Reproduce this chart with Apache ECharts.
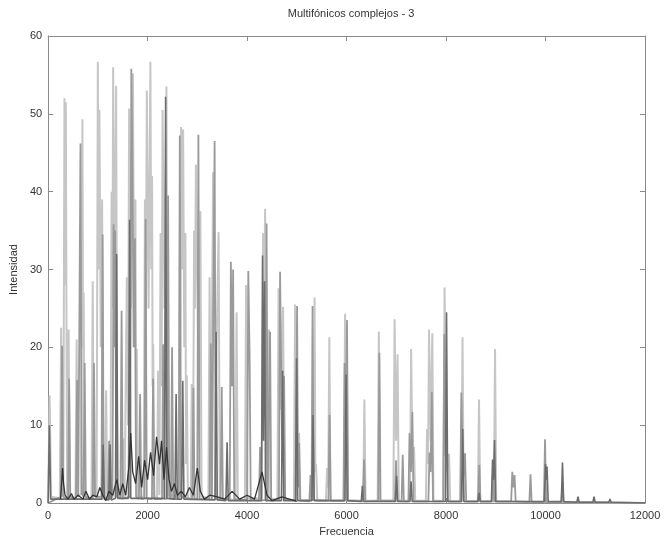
<!DOCTYPE html>
<html>
<head>
<meta charset="utf-8">
<script src="https://cdn.jsdelivr.net/npm/echarts@6/dist/echarts.min.js"></script>
<style>html,body{margin:0;padding:0;background:#fff;}#c{width:665px;height:542px;}</style>
</head>
<body>
<div id="c"></div>
<script>
var titleText = 'Multifónicos complejos - 3';
var xName = 'Frecuencia';
var yName = 'Intensidad';

// [frecuencia, intensidad] — light gray spectrum
var lightSpec = [
[0,0],[30,13.8],[60,0.8],
[235,0.6],[261,22.5],[285,1.2],
[305,0.8],[328,52],[342,28],[356,51.5],[380,1.2],
[395,0.6],[412,22.3],[435,0.8],
[550,0.6],[573,21],[596,0.8],
[665,1.2],[689,49.3],[702,20],[714,27],[738,0.8],
[872,0.6],[896,28.5],[920,1],
[975,0.8],[999,56.7],[1015,30],[1031,50.5],[1058,20],[1085,39],[1110,1],
[1143,0.5],[1166,14.5],[1189,0.5],
[1252,0.8],[1276,40],[1292,25],[1307,56],[1337,25],[1367,53.6],[1392,1],
[1491,0.5],[1514,8.3],[1537,0.5],
[1558,0.6],[1582,29],[1605,10],[1628,50.7],[1666,25],[1705,55.2],[1730,20],[1755,39],[1768,3],[1783,19.8],[1806,0.8],
[1922,0.8],[1946,39],[1965,25],[1984,53],[2020,25],[2056,56.7],[2073,30],[2090,42],[2100,15],[2112,20.4],[2135,0.8],
[2188,0.5],[2211,17],[2236,1],[2261,34.7],[2281,15],[2301,50.5],[2340,25],[2378,53.5],[2385,40],[2392,39.8],[2417,1],
[2649,0.8],[2673,48.3],[2694,30],[2714,48],[2737,20],[2760,34.7],[2772,5],[2788,16.4],[2810,0.5],
[2866,0.5],[2888,15.3],[2911,0.8],[2935,35],[2953,25],[2971,43.5],[3016,20],[3061,37.5],[3085,0.8],
[3222,0.6],[3246,29],[3270,1],[3293,0.8],[3317,42.5],[3372,15],[3427,34.8],[3452,0.6],
[3765,0.4],[3789,24.5],[3813,0.4],
[3956,0.4],[3980,28],[4004,0.6],
[4298,0.6],[4322,34.7],[4342,25],[4362,37.8],[4402,10],[4442,22.3],[4466,0.6],
[4609,0.4],[4633,27.6],[4678,12],[4724,25.2],[4748,0.4],
[4941,0.4],[4965,25.5],[5005,5],[5045,9],[5070,0.4],
[5333,0.4],[5357,26.4],[5372,4],[5387,5],[5410,0.3],
[5585,0.3],[5608,4.5],[5630,2],[5654,21.3],[5678,0.3],
[5946,0.3],[5970,24.3],[5994,0.4],
[6334,0.3],[6358,13.3],[6382,0.3],
[6625,0.3],[6649,22],[6673,0.3],
[6941,0.3],[6965,23.6],[6995,8],[7025,19.1],[7050,0.3],
[7274,0.3],[7298,19.8],[7327,5],[7357,7.2],[7380,0.3],
[7595,0.3],[7618,9.5],[7638,5],[7658,22.3],[7691,8],[7724,21.8],[7748,0.3],
[7946,0.3],[7970,27.7],[8015,4],[8060,6.3],[8084,0.2],
[8307,0.2],[8331,21.3],[8355,0.2],
[8639,0.2],[8663,13.3],[8687,0.2],
[8961,0.2],[8985,19.8],[9009,0.2],
[12000,0]
];

// medium gray spectrum
var midSpec = [
[0,0],[258,0.8],[281,20.2],[304,0.8],
[400,0.6],[422,16],[445,0.8],
[560,0.5],[583,15.8],[606,0.8],
[625,0.8],[650,46.2],[675,1.2],
[711,0.8],[734,18],[757,0.8],
[898,0.5],[921,18],[944,0.8],
[1072,0.8],[1095,34.5],[1118,0.8],
[1203,0.5],[1226,8],[1249,0.5],
[1293,0.8],[1316,35.8],[1331,20],[1347,35],[1370,0.8],
[1454,0.6],[1477,24.7],[1500,0.6],
[1649,0.8],[1672,55.8],[1693,44.8],[1720,20],[1745,34],[1768,0.8],
[1826,0.5],[1849,14],[1872,0.5],
[1937,0.6],[1960,36.5],[1983,0.6],
[2087,0.5],[2110,16],[2133,0.5],
[2289,0.5],[2312,20.4],[2335,0.5],
[2389,0.6],[2412,39.5],[2435,0.8],
[2469,0.5],[2492,20],[2515,0.5],
[2624,0.5],[2647,47.2],[2670,0.8],
[2898,0.5],[2921,14.8],[2944,0.5],
[2998,0.5],[3021,47.3],[3044,0.5],
[3247,0.5],[3270,20.5],[3293,0.5],
[3324,0.5],[3347,46.5],[3370,0.5],
[3467,0.5],[3490,14.9],[3513,0.5],
[3651,0.5],[3674,31],[3697,15],[3719,30],[3742,0.5],
[4001,0.4],[4024,29.8],[4050,19.3],[4073,0.4],
[4238,0.3],[4261,7.2],[4284,0.3],
[4369,0.4],[4392,35.9],[4415,0.4],
[4439,0.3],[4462,22],[4485,0.3],
[4640,0.4],[4663,29.7],[4703,8],[4744,16.3],[4767,0.4],
[4982,0.4],[5005,25.3],[5025,2],[5045,7.7],[5068,0.3],
[5252,0.2],[5275,3.6],[5296,0.4],[5316,25.3],[5339,0.4],
[5635,0.3],[5658,11.3],[5681,0.3],
[5937,0.3],[5960,18],[5985,10],[6009,23.5],[6032,0.3],
[6329,0.2],[6352,5.6],[6375,0.2],
[6637,0.3],[6660,19.3],[6683,0.3],
[6972,0.3],[6995,5.5],[7018,0.3],
[7106,0.2],[7129,6.2],[7152,0.2],
[7243,0.2],[7266,9],[7295,4],[7323,11.7],[7346,0.2],
[7645,0.2],[7668,6.5],[7690,4],[7714,14.3],[7737,0.2],
[7942,0.2],[7965,21.7],[7990,6],[8014,10.3],[8037,0.2],
[8284,0.2],[8307,14.2],[8345,3],[8382,6.4],[8405,0.2],
[8645,0.2],[8668,4.9],[8691,0.2],
[8922,0.2],[8945,4.3],[8968,0.2],
[9309,0.2],[9332,4],[9355,2],[9377,3.6],[9400,0.2],
[9675,0.1],[9698,3.7],[9721,0.1],
[9967,0.1],[9990,8.2],[10013,0.1],
[10318,0.1],[10341,2.7],[10364,0.1],
[12000,0]
];

// dark gray spectrum
var darkSpec = [
[0,0],[25,10],[50,0.5],
[1083,0.5],[1106,7.5],[1129,0.5],
[1223,0.4],[1246,7.5],[1269,0.4],
[1354,0.6],[1377,32],[1400,0.6],
[1615,0.6],[1638,36.4],[1661,0.6],
[2339,0.6],[2362,52.2],[2385,0.6],
[2550,0.5],[2573,14],[2596,0.5],
[2684,0.5],[2707,15.7],[2730,0.5],
[3354,0.4],[3377,22],[3400,0.4],
[3575,0.3],[3598,7.8],[3621,0.3],
[4288,0.3],[4311,31.8],[4330,8],[4352,28.5],[4375,0.3],
[4691,0.3],[4714,17],[4737,0.3],
[4972,0.3],[4995,18.6],[5018,0.3],
[5303,0.3],[5326,11.3],[5349,0.3],
[5967,0.3],[5990,16.5],[6013,0.3],
[6295,0.2],[6318,2.2],[6341,0.2],
[6982,0.2],[7005,3.5],[7028,0.2],
[7273,0.2],[7296,2.8],[7319,0.2],
[7987,0.2],[8010,24.5],[8033,0.2],
[8312,0.2],[8335,9.5],[8358,0.2],
[8640,0.2],[8663,1.3],[8686,0.2],
[8912,0.2],[8935,5.6],[8955,3],[8975,8.1],[8998,0.2],
[9977,0.2],[10000,5],[10015,3],[10030,4.7],[10053,0.2],
[10318,0.2],[10341,5.2],[10364,0.2],
[10630,0.1],[10653,0.8],[10676,0.1],
[10952,0.1],[10975,0.8],[10998,0.1],
[11273,0.1],[11296,0.5],[11319,0.1],
[12000,0]
];

// near-black low-level spectrum
var blackSpec = [
[250,0.5],[290,4.5],[310,2.5],[340,1],[400,0.5],[470,1.2],[520,0.5],[600,1],[700,0.5],[760,1.5],
[830,0.5],[900,1],[980,0.8],[1040,2],[1100,1],[1160,0.3],[1220,1.5],[1300,1],[1380,3],[1440,1],
[1500,2.5],[1560,1],[1630,5],[1660,9],[1700,4],[1760,2.5],[1820,6],[1880,2],[1940,5.5],[2000,3],
[2060,6.5],[2120,3.5],[2180,8.5],[2240,5],[2280,8],[2330,3],[2380,7.2],[2430,3],[2480,1.5],[2540,2.5],
[2600,1],[2680,1.5],[2760,0.8],[2840,2],[2920,1],[3000,4.5],[3060,1.5],[3140,0.5],[3250,1],[3400,0.8],
[3550,0.5],[3700,1.5],[3850,0.5],[4000,1],[4150,0.5],[4300,4],[4400,1],[4500,0.3],[4700,0.8],[5000,0.2]
];

var xTicks = {min: 0, max: 12000, interval: 2000};
var yTicks = {min: 0, max: 60, interval: 10};

var axisCol = '#8a8a8a';
var font = 'Liberation Sans, Arial, sans-serif';

function mkSeries(data, color, w) {
  return {type: 'line', data: data, showSymbol: false, symbol: 'none', animation: false,
    lineStyle: {color: color, width: w}, xAxisIndex: 0, yAxisIndex: 0, z: 2};
}
function plain(v) { return String(v); }

var chart = echarts.init(document.getElementById('c'), null, {renderer: 'canvas'});
chart.setOption({
  backgroundColor: '#fff',
  animation: false,
  title: {text: titleText, left: 346, top: 3, textAlign: 'center',
    textStyle: {fontFamily: font, fontSize: 11, fontWeight: 'normal', color: '#333'}},
  grid: {left: 48, right: 20, top: 36, bottom: 36},
  xAxis: [
    {type: 'value', position: 'bottom', min: xTicks.min, max: xTicks.max, interval: xTicks.interval,
     name: xName, nameLocation: 'middle', nameGap: 23,
     nameTextStyle: {fontFamily: font, fontSize: 11, color: '#333'},
     axisLine: {show: true, onZero: false, lineStyle: {color: axisCol, width: 1}},
     axisTick: {show: true, inside: true, length: 5, lineStyle: {color: axisCol}},
     axisLabel: {fontFamily: font, fontSize: 11, color: '#333', margin: 7, formatter: plain},
     splitLine: {show: false}},
    {type: 'value', position: 'top', min: xTicks.min, max: xTicks.max, interval: xTicks.interval,
     axisLine: {show: true, onZero: false, lineStyle: {color: axisCol, width: 1}},
     axisTick: {show: true, inside: true, length: 5, lineStyle: {color: axisCol}},
     axisLabel: {show: false}, splitLine: {show: false}}
  ],
  yAxis: [
    {type: 'value', position: 'left', min: yTicks.min, max: yTicks.max, interval: yTicks.interval,
     name: yName, nameLocation: 'middle', nameGap: 28,
     nameTextStyle: {fontFamily: font, fontSize: 11, color: '#333'},
     axisLine: {show: true, onZero: false, lineStyle: {color: axisCol, width: 1}},
     axisTick: {show: true, inside: true, length: 5, lineStyle: {color: axisCol}},
     axisLabel: {fontFamily: font, fontSize: 11, color: '#333', margin: 6, formatter: plain},
     splitLine: {show: false}},
    {type: 'value', position: 'right', min: yTicks.min, max: yTicks.max, interval: yTicks.interval,
     axisLine: {show: true, onZero: false, lineStyle: {color: axisCol, width: 1}},
     axisTick: {show: true, inside: true, length: 5, lineStyle: {color: axisCol}},
     axisLabel: {show: false}, splitLine: {show: false}}
  ],
  series: [
    mkSeries(lightSpec, '#c6c6c6', 2),
    mkSeries(midSpec, '#9a9a9a', 1.8),
    mkSeries(darkSpec, '#6c6c6c', 1.6),
    mkSeries(blackSpec, '#333333', 1.3)
  ]
});
</script>
</body>
</html>
